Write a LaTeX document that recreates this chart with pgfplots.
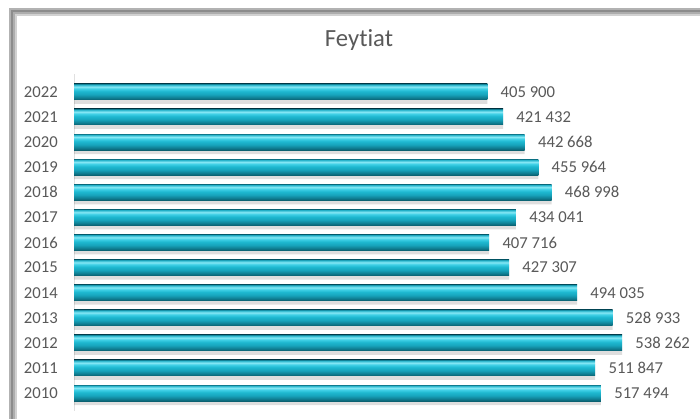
\documentclass[border=0pt]{standalone}
\usepackage{fontspec}
\setmainfont{Carlito}[Ligatures={NoCommon,NoContextual}]
\usepackage{pgfplots}
\pgfplotsset{compat=1.18}
\definecolor{txt}{HTML}{595959}
\definecolor{b1}{HTML}{22B0C8}
\definecolor{b2}{HTML}{86E8F5}
\definecolor{b3}{HTML}{40D0E6}
\definecolor{b4}{HTML}{1EB8D0}
\definecolor{b5}{HTML}{17A4BC}
\definecolor{b6}{HTML}{0F7E92}
\definecolor{b7}{HTML}{0A6070}
\pgfdeclareverticalshading{barshade}{100bp}{color(0bp)=(b7); color(25bp)=(b7); color(32bp)=(b6); color(42bp)=(b5); color(52bp)=(b4); color(60bp)=(b3); color(66bp)=(b2); color(73bp)=(b1); color(75bp)=(b6); color(100bp)=(b6)}
\pgfplotsset{
  mybar/.style={xbar, bar width=12pt, bar shift=0pt, draw=none, shading=barshade,
    nodes near coords, point meta=x,
    nodes near coords style={font=\fontsize{12.5}{15}\selectfont, text=txt, anchor=west, xshift=6.5pt}},
  myshadow/.style={xbar, bar width=12pt, bar shift=-3pt, fill=black, draw=none, opacity=0.13, forget plot}
}
\begin{document}
\begin{tikzpicture}[x=0.75pt,y=-0.75pt]
\path[use as bounding box] (0,0) rectangle (700,418);
\clip (0,0) rectangle (700,418);
\fill[white] (0,0) rectangle (700,418);
% frame with shadow
\draw[line width=1.5pt, black!18] (16,430) -- (16,15) -- (720,15);
\draw[line width=1.5pt, black!32] (14,430) -- (14,13) -- (720,13);
\draw[line width=1.5pt, black!45] (12,430) -- (12,11) -- (720,11);
\draw[line width=1.2pt, black!30] (10,430) -- (10,9) -- (720,9);
\node[anchor=base, font=\fontsize{18.5}{22}\selectfont, text=txt, inner sep=0pt] at (359,46) {Feytiat};
\begin{axis}[
  at={(55.5pt,-307.95pt)}, anchor=south west,
  scale only axis, width=458.2pt, height=252.2pt,
  xmin=0, xmax=600000, ymin=-0.7, ymax=12.7,
  clip=false,
  axis x line=none,
  axis y line*=left,
  y axis line style={draw=black!12, line width=0.5pt},
  ytick={0,...,12},
  yticklabels={2010,2011,2012,2013,2014,2015,2016,2017,2018,2019,2020,2021,2022},
  major tick length=0pt,
  ytick style={draw=none},
  yticklabel style={font=\fontsize{12.5}{15}\selectfont, text=txt, inner sep=0pt, xshift=-12pt},
  /pgf/number format/.cd, fixed, precision=0, 1000 sep={\ }, assume math mode=true,
]
\addplot[myshadow]
coordinates {(517494,0) (511847,1) (538262,2) (528933,3) (494035,4) (427307,5) (407716,6) (434041,7) (468998,8) (455964,9) (442668,10) (421432,11) (405900,12)};
\addplot[mybar] coordinates {(517494,0)};
\addplot[mybar] coordinates {(511847,1)};
\addplot[mybar] coordinates {(538262,2)};
\addplot[mybar] coordinates {(528933,3)};
\addplot[mybar] coordinates {(494035,4)};
\addplot[mybar] coordinates {(427307,5)};
\addplot[mybar] coordinates {(407716,6)};
\addplot[mybar] coordinates {(434041,7)};
\addplot[mybar] coordinates {(468998,8)};
\addplot[mybar] coordinates {(455964,9)};
\addplot[mybar] coordinates {(442668,10)};
\addplot[mybar] coordinates {(421432,11)};
\addplot[mybar] coordinates {(405900,12)};
\end{axis}
\end{tikzpicture}
\end{document}
